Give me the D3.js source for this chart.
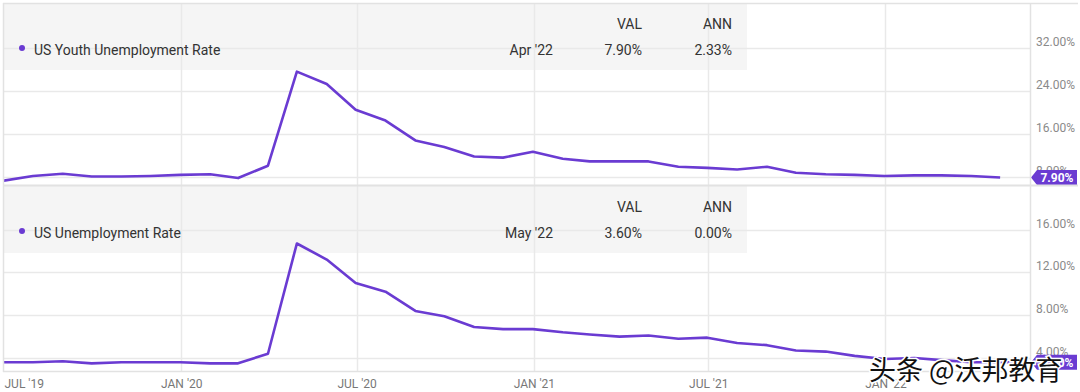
<!DOCTYPE html>
<html>
<head>
<meta charset="utf-8">
<script src="https://cdn.jsdelivr.net/npm/d3@7"></script>
<style>
  html, body { margin: 0; padding: 0; background: #fff; }
  svg { display: block; font-family: Roboto, "Noto Sans", sans-serif; }
</style>
</head>
<body>
<svg id="chart" width="1080" height="392"></svg>
<script>
// ---- data (monthly, plotted at month end) ----
const months = ["2019-06","2019-07","2019-08","2019-09","2019-10","2019-11","2019-12",
  "2020-01","2020-02","2020-03","2020-04","2020-05","2020-06","2020-07","2020-08","2020-09","2020-10","2020-11","2020-12",
  "2021-01","2021-02","2021-03","2021-04","2021-05","2021-06","2021-07","2021-08","2021-09","2021-10","2021-11","2021-12",
  "2022-01","2022-02","2022-03","2022-04","2022-05"];
const youthRate = [7.3, 8.2, 8.6, 8.1, 8.1, 8.2, 8.4,
  8.5, 7.8, 10.1, 27.6, 25.3, 20.5, 18.5, 14.8, 13.6, 11.8, 11.6, 12.7,
  11.4, 10.9, 10.9, 10.9, 9.9, 9.7, 9.4, 9.9, 8.8, 8.5, 8.4, 8.2,
  8.3, 8.3, 8.2, 7.9];
const unempRate = [3.6, 3.6, 3.7, 3.5, 3.6, 3.6, 3.6,
  3.5, 3.5, 4.4, 14.7, 13.2, 11.0, 10.2, 8.4, 7.9, 6.9, 6.7, 6.7,
  6.4, 6.2, 6.0, 6.1, 5.8, 5.9, 5.4, 5.2, 4.7, 4.6, 4.2, 3.9,
  4.0, 3.8, 3.6, 3.6, 3.6];
const seriesNames = ["US Youth Unemployment Rate", "US Unemployment Rate"];
const legendDates = ["Apr '22", "May '22"];
const legendVal = ["7.90%", "3.60%"];
const legendAnn = ["2.33%", "0.00%"];
const tagLabels = ["7.90%", "3.60%"];
const youthTicks = [8, 16, 24, 32];
const unempTicks = [4, 8, 12, 16];
const watermark = "头条 @沃邦教育";

// ---- setup ----
const svg = d3.select("#chart");
const purple = "#6a3bd2";
const gridC = "#e9e9e9";
const frameC = "#e2e2e2";
const parse = d3.timeParse("%Y-%m");
const monthEnd = m => d3.timeDay.offset(d3.timeMonth.offset(parse(m), 1), -1);

const L = 4, R = 1030;
const x = d3.scaleTime()
  .domain([new Date(2019, 6, 1), new Date(2022, 4, 31)])
  .range([L, R]);
const xTicks = x.ticks(d3.timeMonth.every(6));
const fmt = d3.timeFormat("%b '%y");

const panels = [
  { top: 3, bottom: 185, values: youthRate, ticks: youthTicks,
    y: d3.scaleLinear().domain([8, 32]).range([177, 48]) },
  { top: 186, bottom: 371, values: unempRate, ticks: unempTicks,
    y: d3.scaleLinear().domain([4, 16]).range([358, 229.6]) }
];

const defs = svg.append("defs");

panels.forEach((p, i) => {
  const g = svg.append("g");
  // legend box
  g.append("rect").attr("x", L).attr("y", p.top).attr("width", 747 - L).attr("height", 67)
    .attr("fill", "#f5f5f5");
  // horizontal grid
  g.selectAll(".hg").data(p.ticks).join("line")
    .attr("x1", L).attr("x2", R)
    .attr("y1", d => Math.round(p.y(d)) + 0.5).attr("y2", d => Math.round(p.y(d)) + 0.5)
    .attr("stroke", gridC).attr("stroke-width", 1.5);
  // vertical grid
  g.selectAll(".vg").data(xTicks.filter(d => x(d) > L + 2)).join("line")
    .attr("x1", d => Math.round(x(d)) + 0.5).attr("x2", d => Math.round(x(d)) + 0.5)
    .attr("y1", p.top).attr("y2", p.bottom)
    .attr("stroke", gridC).attr("stroke-width", 1.5);
  // right tick labels
  g.selectAll(".tl").data(p.ticks).join("text")
    .attr("x", 1036).attr("y", d => p.y(d) - 2)
    .attr("font-size", 12).attr("fill", "#8a8a8a")
    .text(d => d3.format(".2f")(d) + "%");
  // clip + line
  const cid = "clip" + i;
  defs.append("clipPath").attr("id", cid).append("rect")
    .attr("x", L).attr("y", p.top).attr("width", R - L).attr("height", p.bottom - p.top);
  const pts = p.values.map((v, k) => [monthEnd(months[k]), v]);
  g.append("path").attr("clip-path", `url(#${cid})`)
    .attr("d", d3.line().x(d => x(d[0])).y(d => p.y(d[1]))(pts))
    .attr("fill", "none").attr("stroke", purple).attr("stroke-width", 2.6)
    .attr("stroke-linejoin", "round");
  // legend text
  g.append("circle").attr("cx", 22).attr("cy", p.top + 45).attr("r", 3).attr("fill", purple);
  g.append("text").attr("x", 34).attr("y", p.top + 52).attr("font-size", 14).attr("fill", "#333")
    .text(seriesNames[i]);
  g.append("text").attr("x", 642).attr("y", p.top + 26).attr("font-size", 14).attr("fill", "#333")
    .attr("text-anchor", "end").text("VAL");
  g.append("text").attr("x", 732).attr("y", p.top + 26).attr("font-size", 14).attr("fill", "#333")
    .attr("text-anchor", "end").text("ANN");
  g.append("text").attr("x", 553).attr("y", p.top + 52).attr("font-size", 14).attr("fill", "#333")
    .attr("text-anchor", "end").text(legendDates[i]);
  g.append("text").attr("x", 642).attr("y", p.top + 52).attr("font-size", 14).attr("fill", "#333")
    .attr("text-anchor", "end").text(legendVal[i]);
  g.append("text").attr("x", 732).attr("y", p.top + 52).attr("font-size", 14).attr("fill", "#333")
    .attr("text-anchor", "end").text(legendAnn[i]);
  // end tag
  const ty = p.y(p.values[p.values.length - 1]);
  g.append("path")
    .attr("d", `M1031,${ty} L1037,${ty - 7.5} L1077,${ty - 7.5} L1077,${ty + 7.5} L1037,${ty + 7.5} Z`)
    .attr("fill", purple);
  g.append("text").attr("x", 1057).attr("y", ty + 4.5).attr("text-anchor", "middle")
    .attr("font-size", 12).attr("font-weight", "bold").attr("fill", "#fff").text(tagLabels[i]);
});

// frame
svg.append("line").attr("x1", 3).attr("x2", 1078).attr("y1", 3.5).attr("y2", 3.5).attr("stroke", frameC).attr("stroke-width", 1.5);
svg.append("line").attr("x1", 3).attr("x2", 1078).attr("y1", 185.5).attr("y2", 185.5).attr("stroke", frameC).attr("stroke-width", 2);
svg.append("line").attr("x1", 3).attr("x2", 1030).attr("y1", 371.5).attr("y2", 371.5).attr("stroke", frameC).attr("stroke-width", 1.5);
svg.append("line").attr("x1", 3.5).attr("x2", 3.5).attr("y1", 3).attr("y2", 372).attr("stroke", frameC).attr("stroke-width", 1.5);
svg.append("line").attr("x1", 1030.5).attr("x2", 1030.5).attr("y1", 3).attr("y2", 372).attr("stroke", frameC).attr("stroke-width", 1.5);

// x axis labels
const xAxis = d3.axisBottom(x).tickValues(xTicks).tickSize(0).tickPadding(0)
  .tickFormat(d => fmt(d).toUpperCase());
const ax = svg.append("g").attr("transform", "translate(0,380)").call(xAxis);
ax.select(".domain").remove();
ax.selectAll("text").attr("font-size", 12).attr("fill", "#777")
  .attr("font-family", "Roboto, sans-serif").attr("dy", "0.7em")
  .attr("text-anchor", d => x(d) < L + 2 ? "start" : "middle");

// watermark
svg.append("text").attr("x", 869).attr("y", 380)
  .attr("font-family", "'Noto Sans CJK SC', sans-serif").attr("font-size", 27)
  .attr("fill", "#111").attr("stroke", "#fff").attr("stroke-width", 3)
  .attr("paint-order", "stroke").text(watermark);
</script>
</body>
</html>
